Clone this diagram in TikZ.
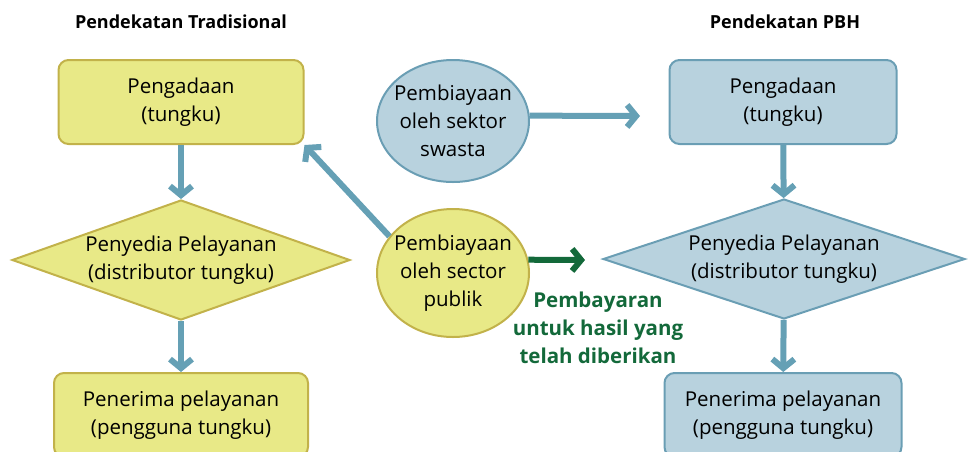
\documentclass[tikz,border=0pt]{standalone}
\usepackage{fontspec}
\setmainfont{Open Sans}
\usepackage{tikz}
\usetikzlibrary{arrows.meta,shapes.geometric,positioning}

\definecolor{yfill}{HTML}{E8E987}
\definecolor{ydraw}{HTML}{C2B24A}
\definecolor{bfill}{HTML}{B8D2DE}
\definecolor{bdraw}{HTML}{6A9EB4}
\definecolor{arrowblue}{HTML}{65A0B5}
\definecolor{paygreen}{HTML}{13693A}

\tikzset{
    txt/.style={align=center,inner sep=0pt,font=\fontsize{20.5}{28}\selectfont},
    ybox/.style={txt,rectangle,rounded corners=10pt,draw=ydraw,fill=yfill,line width=2pt,minimum width=245pt,minimum height=84pt},
    bbox/.style={txt,rectangle,rounded corners=10pt,draw=bdraw,fill=bfill,line width=2pt,minimum width=230pt,minimum height=84pt},
    ydiam/.style={diamond,draw=ydraw,fill=yfill,line width=2pt,minimum width=338pt,minimum height=120pt},
    bdiam/.style={diamond,draw=bdraw,fill=bfill,line width=2pt,minimum width=362pt,minimum height=120pt},
    yell/.style={ellipse,draw=ydraw,fill=yfill,line width=2pt,minimum width=152pt,minimum height=128pt},
    bell/.style={ellipse,draw=bdraw,fill=bfill,line width=2pt,minimum width=152pt,minimum height=122pt},
    flow/.style={arrowblue,line width=6pt,-{Straight Barb[length=9pt,width=22pt]}},
    payflow/.style={paygreen,line width=6pt,-{Straight Barb[length=9pt,width=22pt]}},
    heading/.style={font=\bfseries\fontsize{18}{20}\selectfont}
}

\begin{document}
\begin{tikzpicture}[x=1pt,y=-1pt]
    \useasboundingbox (0,0) rectangle (970,451);
    \clip (0,0) rectangle (970,451);

    % Headings
    \node[heading] (hleft) at (181,22) {Pendekatan Tradisional};
    \node[heading] (hright) at (785,22) {Pendekatan PBH};

    % Traditional approach
    \node[ybox] (ltop) at (181,102) {Pengadaan\\(tungku)};
    \node[ydiam] (ldia) at (181,260) {};
    \node[txt] (ldiatxt) at (ldia) {Penyedia Pelayanan\\(distributor tungku)};
    \node[ybox,minimum width=254pt] (lbot) at (181,415) {Penerima pelayanan\\(pengguna tungku)};

    % PBH approach
    \node[bbox,minimum width=227pt] (rtop) at (783,102) {Pengadaan\\(tungku)};
    \node[bdiam] (rdia) at (784,259) {};
    \node[txt] (rdiatxt) at (rdia) {Penyedia Pelayanan\\(distributor tungku)};
    \node[bbox,minimum width=237pt] (rbot) at (783,415) {Penerima pelayanan\\(pengguna tungku)};

    % Financing
    \node[bell] (pri) at (453,121) {};
    \node[txt] (pritxt) at (pri) {Pembiayaan\\oleh sektor\\swasta};
    \node[yell] (pub) at (453,273) {};
    \node[txt] (pubtxt) at (pub) {Pembiayaan\\oleh sector\\publik};

    \coordinate (priend) at (640,116);
    \coordinate (payend) at (585,260);

    % Arrows
    \draw[flow] (ltop) -- (ldia);
    \draw[flow] (ldia) -- (lbot);
    \draw[flow] (rtop) -- (rdia);
    \draw[flow] (rdia) -- (rbot);
    \draw[flow] (pri.4) -- (priend);
    \draw[flow] (pub.150) -- (ltop.south east);
    \draw[payflow] (pub.10) -- (payend);

    \node[font=\bfseries\fontsize{20.5}{28}\selectfont,text=paygreen,align=center] (paylabel) at (598,328)
        {Pembayaran\\untuk hasil yang\\telah diberikan};
\end{tikzpicture}
\end{document}
